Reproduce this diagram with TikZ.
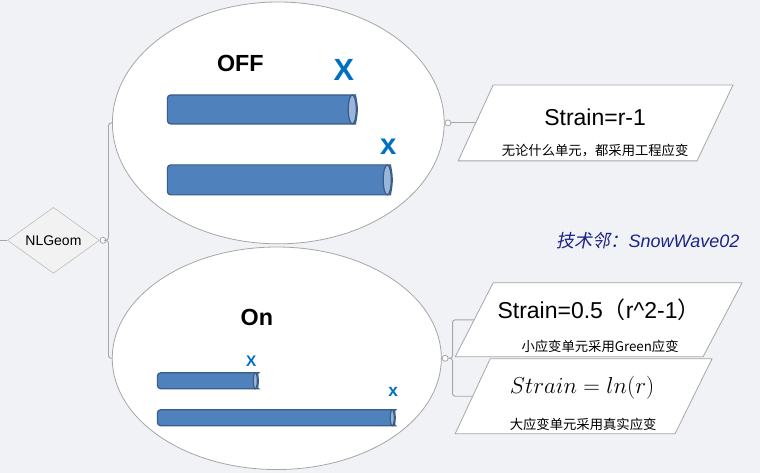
\documentclass[tikz,border=0pt]{standalone}
\usepackage{fontspec}
\setmainfont{Liberation Sans}
\newfontfamily\cjk{Noto Sans CJK SC}
\newfontfamily\cjkslant{Noto Sans CJK SC}[FakeSlant=0.2]
\usetikzlibrary{shapes.geometric}
\definecolor{paper}{HTML}{F0F2F5}
\definecolor{rim}{HTML}{A6A6A6}
\definecolor{pipeblue}{HTML}{4F81BD}
\definecolor{pipeedge}{HTML}{385D8A}
\definecolor{pipecap}{HTML}{9CB6D9}
\definecolor{xblue}{HTML}{0070C0}
\definecolor{navy}{HTML}{1C2388}

\begin{document}
\begin{tikzpicture}[x=0.75pt,y=-0.75pt,
  conn/.style={rim,line width=0.7pt},
  knob/.style={circle,draw=rim,fill=white,inner sep=0pt,minimum size=4.5pt,line width=0.6pt},
  bubble/.style={ellipse,draw=rim,fill=white,inner sep=0pt,line width=0.6pt},
  slab/.style={draw=rim,fill=white,line width=0.6pt},
  pipe/.style={fill=pipeblue,draw=pipeedge,line width=0.9pt}]
  \fill[paper] (0,0) rectangle (760,473);
  % left root
  \coordinate (inlet) at (0,240.5);
  \node[diamond,draw=rim!80,fill=black!5,inner sep=0pt,minimum width=69pt,minimum height=40pt,
        font=\fontsize{10.5}{12}\selectfont] (nl) at (53,240.5) {NLGeom};
  \draw[conn] (inlet) -- (nl.west);
  \node[knob,anchor=west] (nldot) at (nl.east) {};
  % the two states
  \node[bubble,minimum width=249pt,minimum height=181.5pt] (off) at (278,123) {};
  \node[bubble,minimum width=247pt,minimum height=167pt] (on) at (276.5,358.5) {};
  \draw[conn,rounded corners=2pt] (nldot.east) -- ++(2,0) |- (off.west);
  \draw[conn,rounded corners=2pt] (nldot.east) -- ++(2,0) |- (on.west);
  \node[knob,anchor=west] (offdot) at (off.east) {};
  \node[knob,anchor=west] (ondot) at (on.east) {};
  % bars
  \foreach \xa/\xb/\yc/\h/\r in {167/357/109.5/29/5,167/392/180/30/5,157/258/381/16/3,157/395/418/16/3}{
    \draw[pipe,rounded corners=2.5pt] (\xb-\r,\yc+\h/2)
      arc[start angle=90,end angle=-90,x radius=\r,y radius=\h/2]
      -- (\xa,\yc-\h/2) -- (\xa,\yc+\h/2) -- cycle;
    \draw[pipe,fill=pipecap] (\xb-\r,\yc) ellipse[x radius=\r-1,y radius=\h/2];
  }
  \node[font=\bfseries\fontsize{17.5}{18}\selectfont] (offlbl) at (240,63.5) {OFF};
  \node[font=\bfseries\fontsize{17.5}{18}\selectfont] (onlbl) at (256.5,317.5) {On};
  \node[text=xblue,inner sep=0pt,font=\bfseries\fontsize{23}{24}\selectfont] (bigX) at (343.5,70.5) {X};
  \node[text=xblue,inner sep=0pt,font=\bfseries\fontsize{22}{24}\selectfont] (bigx) at (388,147) {x};
  \node[text=xblue,inner sep=0pt,font=\bfseries\fontsize{11.5}{12}\selectfont] (smX) at (251,361) {X};
  \node[text=xblue,inner sep=0pt,font=\bfseries\fontsize{13}{14}\selectfont] (smx) at (393,392.5) {x};
  % strain boxes
  \draw[slab] (493,85) -- (733,85) -- (697,161) -- (458,161) -- cycle;
  \draw[slab] (493,283) -- (742,283) -- (703,357) -- (455,357) -- cycle;
  \draw[slab] (490,359) -- (712,359) -- (675,434) -- (455,434) -- cycle;
  \coordinate (p1in) at (475.5,123);
  \coordinate (p2in) at (474,320);
  \coordinate (p3in) at (472.5,396.5);
  \draw[conn] (offdot.east) -- (p1in);
  \draw[conn,rounded corners=2pt] (ondot.east) -- ++(4,0) |- (p2in);
  \draw[conn,rounded corners=2pt] (ondot.east) -- ++(4,0) |- (p3in);
  \node[font=\fontsize{17.25}{18}\selectfont] (eng) at (595,117) {Strain=r-1};
  \node[font=\cjk\fontsize{10}{12}\selectfont] (engnote) at (595,151) {无论什么单元，都采用工程应变};
  \node[font=\fontsize{17.25}{18}\selectfont] (green) at (599,310) {Strain=0.5{\cjk（}r\^{}2-1{\cjk）}};
  \node[font=\cjk\fontsize{10}{12}\selectfont] (greennote) at (600,347) {小应变单元采用Green应变};
  \node[font=\fontsize{16.5}{18}\selectfont] (log) at (582,388) {$Strain = ln(r)$};
  \node[font=\cjk\fontsize{10}{12}\selectfont] (lognote) at (583,425) {大应变单元采用真实应变};
  \node[text=navy,font=\fontsize{13.5}{15}\selectfont] (tag) at (648,241)
    {{\cjkslant 技术邻：}\itshape SnowWave02};
\end{tikzpicture}
\end{document}
